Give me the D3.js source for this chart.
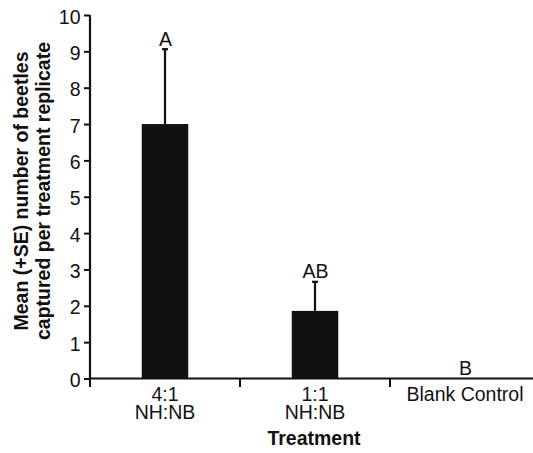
<!DOCTYPE html>
<html>
<head>
<meta charset="utf-8">
<script src="https://cdn.jsdelivr.net/npm/d3@7"></script>
<style>
  html, body { margin: 0; padding: 0; background: #fff; }
  svg { display: block; font-family: "Liberation Sans", Arial, sans-serif; }
</style>
</head>
<body>
<svg id="chart" width="533" height="453"></svg>
<script>
// Treatments (two-line labels) and beetle captures per replicate
const treatments = ["4:1\nNH:NB", "1:1\nNH:NB", "Blank Control"];
const meanCaptured = [7.0, 1.86, 0];
const seCaptured = [2.06, 0.80, 0];
const groupLetters = ["A", "AB", "B"];
const yTicks = [0, 1, 2, 3, 4, 5, 6, 7, 8, 9, 10];

const svg = d3.select("#chart");
const ink = "#111";

const x = d3.scaleBand()
  .domain(treatments)
  .range([90, 540])
  .paddingInner(0.69)
  .paddingOuter(0.345);

const y = d3.scaleLinear().domain([0, 10]).range([378.5, 15]);

function label(g, tx, ty, str, opts = {}) {
  const rot = opts.rotate || 0;
  return g.append("text")
    .attr("transform", `translate(${tx},${ty}) rotate(${rot})`)
    .attr("text-anchor", opts.anchor || "middle")
    .attr("font-size", opts.size || 19.5)
    .attr("font-weight", opts.weight || "normal")
    .attr("dominant-baseline", opts.baseline || "auto")
    .attr("fill", ink)
    .text(str);
}

// bars
svg.append("g").selectAll("rect")
  .data(treatments)
  .join("rect")
  .attr("x", d => x(d))
  .attr("width", x.bandwidth())
  .attr("y", (d, i) => y(meanCaptured[i]))
  .attr("height", (d, i) => y(0) - y(meanCaptured[i]))
  .attr("fill", ink);

// upper error bars with caps
const err = svg.append("g").attr("stroke", ink).attr("stroke-width", 2.2);
treatments.forEach((d, i) => {
  if (seCaptured[i] <= 0) return;
  const cx = x(d) + x.bandwidth() / 2;
  err.append("line")
    .attr("x1", cx).attr("x2", cx)
    .attr("y1", y(meanCaptured[i])).attr("y2", y(meanCaptured[i] + seCaptured[i]));
  err.append("line")
    .attr("x1", cx - 3).attr("x2", cx + 3)
    .attr("y1", y(meanCaptured[i] + seCaptured[i])).attr("y2", y(meanCaptured[i] + seCaptured[i]));
});

// significance letters
const letters = svg.append("g");
treatments.forEach((d, i) => {
  const cx = x(d) + x.bandwidth() / 2;
  label(letters, cx + 0.5, y(meanCaptured[i] + seCaptured[i]) - 3.5, groupLetters[i]);
});

// y axis
const yAxis = svg.append("g")
  .attr("transform", "translate(90,0)")
  .call(d3.axisLeft(y).tickValues(yTicks).tickSize(6).tickPadding(4).tickFormat(d3.format("d")));
yAxis.select(".domain").attr("stroke", ink).attr("stroke-width", 2.2).attr("d", `M0,${y(10)}V${y(0)}`);
yAxis.selectAll(".tick line").attr("stroke", ink).attr("stroke-width", 2);
yAxis.selectAll(".tick text").remove();
yAxis.selectAll(".tick").each(function (d) {
  label(d3.select(this), -9.5, 1, d, { anchor: "end", baseline: "central" });
});

// x axis: baseline with ticks at the group boundaries
const xAxis = svg.append("g").attr("transform", `translate(0,${y(0)})`);
xAxis.append("line")
  .attr("x1", x.range()[0]).attr("x2", x.range()[1])
  .attr("stroke", ink).attr("stroke-width", 2.2);
const bounds = d3.range(treatments.length).map(i => x.range()[0] + i * x.step());
xAxis.selectAll(".bnd").data(bounds).join("line")
  .attr("class", "bnd")
  .attr("x1", d => d).attr("x2", d => d)
  .attr("y1", 0).attr("y2", 8.5)
  .attr("stroke", ink).attr("stroke-width", 2);

// category labels
treatments.forEach(d => {
  const cx = x(d) + x.bandwidth() / 2;
  d.split("\n").forEach((line, k) => {
    label(xAxis, cx, 22.5 + k * 17.5, line);
  });
});

// axis titles
label(svg, 314, 445, "Treatment", { weight: "bold" });
const yTitle = ["Mean (+SE) number of beetles", "captured per treatment replicate"];
yTitle.forEach((t, k) => {
  label(svg, 28 + k * 22, 191, t, { rotate: -90, weight: "bold" });
});
</script>
</body>
</html>
